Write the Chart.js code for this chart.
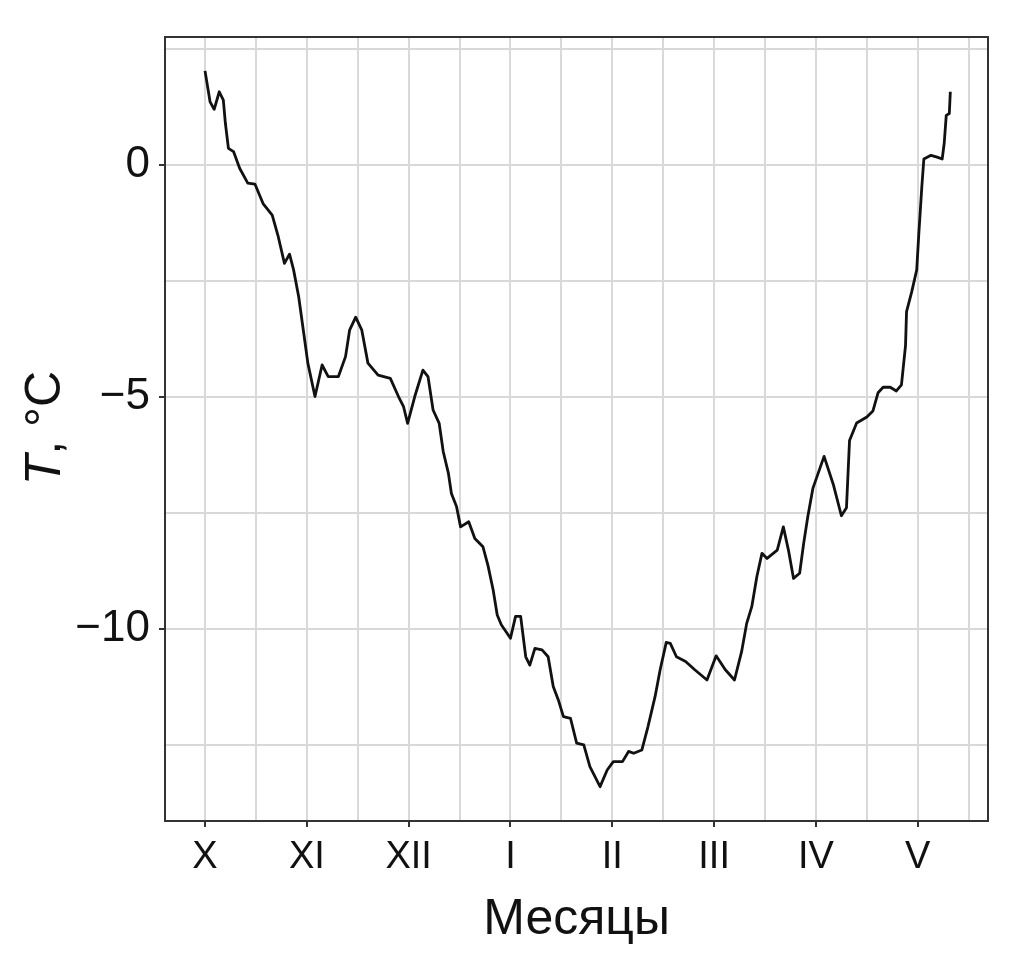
<!DOCTYPE html>
<html>
<head>
<meta charset="utf-8">
<script src="https://cdn.jsdelivr.net/npm/chart.js@4.4.1/dist/chart.umd.min.js"></script>
<style>
html,body{margin:0;padding:0;background:#fff;}
#wrap{width:1010px;height:964px;}
</style>
</head>
<body>
<div id="wrap"><canvas id="c" width="1010" height="964"></canvas></div>
<script>
// Month tick positions and labels (X = October ... V = May)
const monthPos = [0, 1, 2, 3, 4, 5, 6, 7];
const monthLabels = ['X', 'XI', 'XII', 'I', 'II', 'III', 'IV', 'V'];
// Y-axis labelled ticks
const yMajor = [0, -5, -10];
const yMinor = [2.5, -2.5, -7.5, -12.5];
// Time position in months (0 = start of October)
const timeMonths = [
  0.00,0.05,0.09,0.14,0.18,0.20,0.23,0.28,0.34,0.42,0.49,0.57,0.66,0.72,0.78,0.83,0.87,0.92,0.97,1.01,
  1.08,1.15,1.21,1.31,1.38,1.42,1.48,1.54,1.60,1.70,1.82,1.90,1.95,1.99,2.06,2.14,2.19,2.24,2.30,2.34,
  2.39,2.42,2.47,2.51,2.59,2.65,2.73,2.78,2.83,2.87,2.91,3.00,3.05,3.10,3.15,3.19,3.24,3.31,3.37,3.42,
  3.47,3.52,3.59,3.65,3.72,3.78,3.88,3.95,4.01,4.10,4.16,4.21,4.29,4.35,4.42,4.47,4.53,4.57,4.63,4.72,
  4.81,4.93,5.02,5.11,5.20,5.27,5.32,5.37,5.42,5.47,5.52,5.62,5.68,5.73,5.78,5.84,5.88,5.92,5.97,6.08,
  6.17,6.25,6.30,6.33,6.40,6.50,6.56,6.61,6.66,6.73,6.79,6.84,6.88,6.89,6.94,6.99,7.01,7.04,7.06,7.13,
  7.19,7.24,7.26,7.28,7.31,7.32
];
// Temperature, °C
const tempC = [
  2.03,1.36,1.20,1.58,1.40,0.90,0.36,0.29,-0.07,-0.39,-0.41,-0.83,-1.08,-1.55,-2.12,-1.92,-2.26,-2.84,-3.63,-4.27,
  -4.99,-4.31,-4.56,-4.56,-4.13,-3.56,-3.28,-3.56,-4.27,-4.53,-4.60,-4.99,-5.21,-5.57,-4.99,-4.42,-4.56,-5.28,-5.57,-6.18,
  -6.64,-7.08,-7.36,-7.80,-7.69,-8.05,-8.23,-8.64,-9.16,-9.70,-9.91,-10.20,-9.73,-9.73,-10.60,-10.78,-10.42,-10.45,-10.60,-11.24,
  -11.53,-11.89,-11.93,-12.46,-12.50,-12.97,-13.40,-13.04,-12.86,-12.86,-12.64,-12.68,-12.61,-12.11,-11.46,-10.88,-10.29,-10.31,-10.60,-10.70,
  -10.88,-11.10,-10.58,-10.88,-11.10,-10.49,-9.88,-9.52,-8.87,-8.37,-8.48,-8.30,-7.80,-8.30,-8.91,-8.80,-8.15,-7.58,-6.97,-6.28,
  -6.88,-7.56,-7.39,-5.94,-5.56,-5.43,-5.30,-4.91,-4.79,-4.79,-4.87,-4.74,-3.89,-3.16,-2.74,-2.26,-1.50,-0.47,0.13,0.21,
  0.17,0.13,0.47,1.07,1.11,1.58
];

const FONT = "'Liberation Sans', Arial, sans-serif";
const GRID = '#d9d9d9';
const INK = '#111111';

const points = timeMonths.map((t, i) => ({x: t, y: tempC[i]}));

const panelBorder = {
  id: 'panelBorder',
  afterDatasetsDraw(chart) {
    const {ctx, chartArea: a} = chart;
    ctx.save();
    ctx.strokeStyle = '#333333';
    ctx.lineWidth = 2;
    ctx.strokeRect(a.left, a.top, a.right - a.left, a.bottom - a.top);
    ctx.restore();
  }
};

const yTitle = {
  id: 'yTitle',
  afterDraw(chart) {
    const ctx = chart.ctx;
    ctx.save();
    ctx.translate(46, 428);
    ctx.rotate(-Math.PI / 2);
    ctx.fillStyle = INK;
    ctx.textBaseline = 'middle';
    ctx.textAlign = 'left';
    const fItal = 'italic 50px ' + FONT;
    const fReg = '50px ' + FONT;
    ctx.font = fItal; const w1 = ctx.measureText('T').width;
    ctx.font = fReg; const w2 = ctx.measureText(', °C').width;
    const x0 = -(w1 + w2) / 2;
    ctx.font = fItal; ctx.fillText('T', x0, 0);
    ctx.font = fReg; ctx.fillText(', °C', x0 + w1, 0);
    ctx.restore();
  }
};

const isMajorX = v => Math.abs(v - Math.round(v)) < 1e-6;
const isMajorY = v => yMajor.some(m => Math.abs(m - v) < 1e-6);

new Chart(document.getElementById('c'), {
  type: 'scatter',
  data: {
    datasets: [{
      data: points,
      showLine: true,
      borderColor: INK,
      borderWidth: 2.8,
      borderJoinStyle: 'round',
      pointRadius: 0,
      tension: 0
    }]
  },
  options: {
    responsive: false,
    animation: false,
    devicePixelRatio: 1,
    layout: {padding: {top: 37, right: 22, left: 0, bottom: 0}},
    plugins: {legend: {display: false}, tooltip: {enabled: false}},
    scales: {
      x: {
        type: 'linear',
        min: -0.393,
        max: 7.69,
        afterBuildTicks(scale) {
          const t = [];
          for (let v = 0; v <= 7.5; v += 0.5) t.push({value: v});
          scale.ticks = t;
        },
        afterFit(scale) { scale.height = 143; },
        border: {display: false},
        grid: {
          color: GRID,
          lineWidth: 2,
          drawTicks: true,
          tickLength: 6,
          tickWidth: 2,
          tickColor: ctx => isMajorX(ctx.tick.value) ? '#333333' : 'rgba(0,0,0,0)'
        },
        ticks: {
          autoSkip: false,
          maxRotation: 0,
          padding: 8,
          color: INK,
          font: {family: FONT, size: 38},
          callback: v => isMajorX(v) ? monthLabels[monthPos.indexOf(Math.round(v))] : ''
        },
        title: {
          display: true,
          text: 'Месяцы',
          color: INK,
          font: {family: FONT, size: 50},
          padding: {top: 0, bottom: 14}
        }
      },
      y: {
        type: 'linear',
        min: -14.14,
        max: 2.76,
        afterBuildTicks(scale) {
          scale.ticks = yMajor.concat(yMinor).sort((a, b) => a - b).map(v => ({value: v}));
        },
        afterFit(scale) { scale.width = 165; },
        border: {display: false},
        grid: {
          color: GRID,
          lineWidth: 2,
          drawTicks: true,
          tickLength: 6,
          tickWidth: 2,
          tickColor: ctx => isMajorY(ctx.tick.value) ? '#333333' : 'rgba(0,0,0,0)'
        },
        ticks: {
          autoSkip: false,
          padding: 9,
          color: INK,
          font: {family: FONT, size: 44},
          callback: v => isMajorY(v) ? (v < 0 ? '\u2212' + Math.abs(v) : String(v)) : ''
        }
      }
    }
  },
  plugins: [panelBorder, yTitle]
});
</script>
</body>
</html>
